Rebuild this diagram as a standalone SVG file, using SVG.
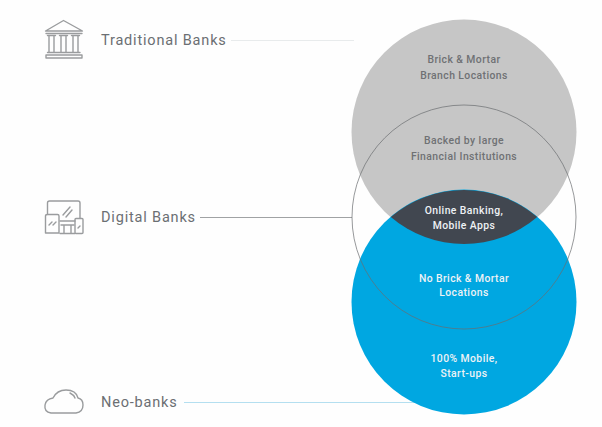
<svg xmlns="http://www.w3.org/2000/svg" width="602" height="427" viewBox="0 0 602 427">
<style>
.lbl{font-family:Roboto,"Liberation Sans",sans-serif;font-size:14.5px;fill:#6b6f73;letter-spacing:.82px}
.in{font-family:Roboto,"Liberation Sans",sans-serif;font-size:10.4px;font-weight:500;text-anchor:middle;letter-spacing:.42px}
.g{fill:#6f7174}.w{fill:#eef2f5}
.ic{fill:none;stroke:#9a9c9e;stroke-width:1.4;stroke-linejoin:round;stroke-linecap:round}
.ln{fill:none;stroke-width:1}
</style>
<rect width="602" height="427" fill="#fefefe"/>
<g id="connectors">
<line class="ln" x1="231" y1="40.500" x2="354" y2="40.500" stroke="#e8ebec"/>
<line class="ln" x1="200" y1="217.500" x2="352" y2="217.500" stroke="#a0a2a4"/>
<line class="ln" x1="184" y1="402.500" x2="420" y2="402.500" stroke="#b4dff0"/>
</g>
<g id="venn-top"><circle cx="464" cy="132" r="112.500" fill="#c6c6c6"/></g>
<g id="venn-bottom"><circle cx="464" cy="302" r="112.500" fill="#00a7e1"/></g>
<g id="venn-overlap"><path d="M390.800 217A112.500 112.500 0 0 1 537.200 217A112.500 112.500 0 0 1 390.800 217Z" fill="#414750"/></g>
<g id="venn-middle"><circle cx="464" cy="217" r="112" fill="none" stroke="#6a6d70" stroke-width=".7"/></g>
<g id="node-brick">
<text class="in g" x="464" y="63">Brick &amp; Mortar</text>
<text class="in g" x="464" y="79">Branch Locations</text>
</g>
<g id="node-backed">
<text class="in g" x="464" y="144">Backed by large</text>
<text class="in g" x="464" y="160">Financial Institutions</text>
</g>
<g id="node-online">
<text class="in w" x="464" y="214">Online Banking,</text>
<text class="in w" x="464" y="229">Mobile Apps</text>
</g>
<g id="node-nobrick">
<text class="in w" x="464" y="282">No Brick &amp; Mortar</text>
<text class="in w" x="464" y="296">Locations</text>
</g>
<g id="node-mobile">
<text class="in w" x="464" y="362">100% Mobile,</text>
<text class="in w" x="464" y="377">Start-ups</text>
</g>
<g id="traditional-banks">
<g class="ic">
<path d="M45.500 31L63.500 20.500L82.500 31Z"/>
<path d="M46 33.500H82"/>
<path d="M47.500 35.500H55.500M59.500 35.500H67.500M71.500 35.500H79.500"/>
<path d="M49 36V52M54 36V52M61 36V52M66 36V52M73 36V52M78 36V52"/>
<path d="M47.500 52.500H80M46 55H82V58H46Z"/>
</g>
<text class="lbl" x="101" y="44.500">Traditional Banks</text>
</g>
<g id="digital-banks">
<g class="ic">
<path d="M47.500 214V203Q47.500 201 49.500 201H78Q80 201 80 203V218"/>
<path d="M45.500 233V216Q45.500 214.500 47.500 214.500H57.500Q59 214.500 59 216V233Z"/>
<path d="M60 221H75M61 225H74M64 225V233M71 225V233M60 233.500H75"/>
<rect x="75" y="218.500" width="8" height="15" rx="1"/>
<path d="M63 215L70 207M66 217L72 210M49 225L52 222M53 225L56 222M78 228L80 226"/>
</g>
<text class="lbl" x="101" y="222">Digital Banks</text>
</g>
<g id="neo-banks">
<path class="ic" d="M51 413Q44 412 45 405Q46 399 53 398Q57 390 66 390Q76 390 78 398Q83 399 83 405Q83 412 76 413Z"/>
<path class="ic" d="M70 393Q74 395 75 398" stroke-width="1"/>
<text class="lbl" x="101" y="407">Neo-banks</text>
</g>
</svg>
